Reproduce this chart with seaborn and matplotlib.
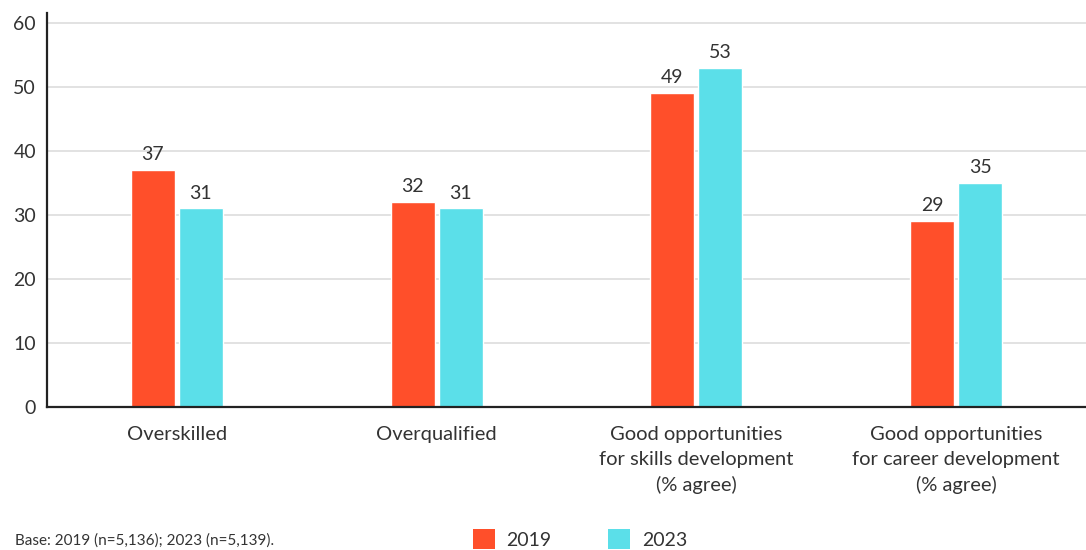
import matplotlib
matplotlib.use("Agg")
import matplotlib.pyplot as plt
from matplotlib.patches import Patch
import seaborn as sns
import pandas as pd

categories = [
    "Overskilled",
    "Overqualified",
    "Good opportunities\nfor skills development\n(% agree)",
    "Good opportunities\nfor career development\n(% agree)",
]
years = ["2019", "2023"]
values_2019 = [37, 32, 49, 29]
values_2023 = [31, 31, 53, 35]
y_ticks = [0, 10, 20, 30, 40, 50, 60]
base_note = "Base: 2019 (n=5,136); 2023 (n=5,139)."

colors = {"2019": "#FF4F2A", "2023": "#5BDFE9"}
text_color = "#333333"

df = pd.DataFrame({
    "category": categories * 2,
    "year": [years[0]] * len(categories) + [years[1]] * len(categories),
    "value": values_2019 + values_2023,
})

sns.set_theme(style="white")
plt.rcParams["font.family"] = ["Lato", "DejaVu Sans"]

fig = plt.figure(figsize=(10.86, 5.5), dpi=100)
ax = fig.add_axes([0.0433, 0.26, 0.9567, 0.716])

sns.barplot(
    data=df, x="category", y="value", hue="year", order=categories,
    hue_order=years, palette=colors, width=0.37, gap=0.083,
    saturation=1, legend=False, ax=ax, errorbar=None,
)

for container in ax.containers:
    ax.bar_label(container, fmt="%d", padding=5, fontsize=14, color=text_color)

ax.set_xlim(-0.5, 3.5)
ax.set_ylim(0, 61.5)
ax.set_yticks(y_ticks)
ax.set_xlabel("")
ax.set_ylabel("")
ax.yaxis.grid(True, color="#DDDDDD", linewidth=1.2)
ax.set_axisbelow(True)
for side in ["top", "right"]:
    ax.spines[side].set_visible(False)
for side in ["left", "bottom"]:
    ax.spines[side].set_color("#222222")
    ax.spines[side].set_linewidth(1.6)
ax.tick_params(axis="y", labelsize=14, labelcolor=text_color, length=0, pad=8)
ax.tick_params(axis="x", labelsize=14.5, labelcolor=text_color, length=0, pad=14)
for lbl in ax.get_xticklabels():
    lbl.set_linespacing(1.55)

fig.text(0.014, 0.005, base_note, fontsize=11, color=text_color, ha="left", va="bottom")

handles = [Patch(facecolor=colors[y], edgecolor="none", label=y) for y in years]
leg = fig.legend(
    handles=handles, loc="lower center", bbox_to_anchor=(0.534, -0.03), ncol=2,
    frameon=False, fontsize=14, handlelength=1.13, handleheight=1.2,
    handletextpad=0.6, columnspacing=2.9,
)
for t in leg.get_texts():
    t.set_color(text_color)

fig.savefig("out.png", dpi=100)
